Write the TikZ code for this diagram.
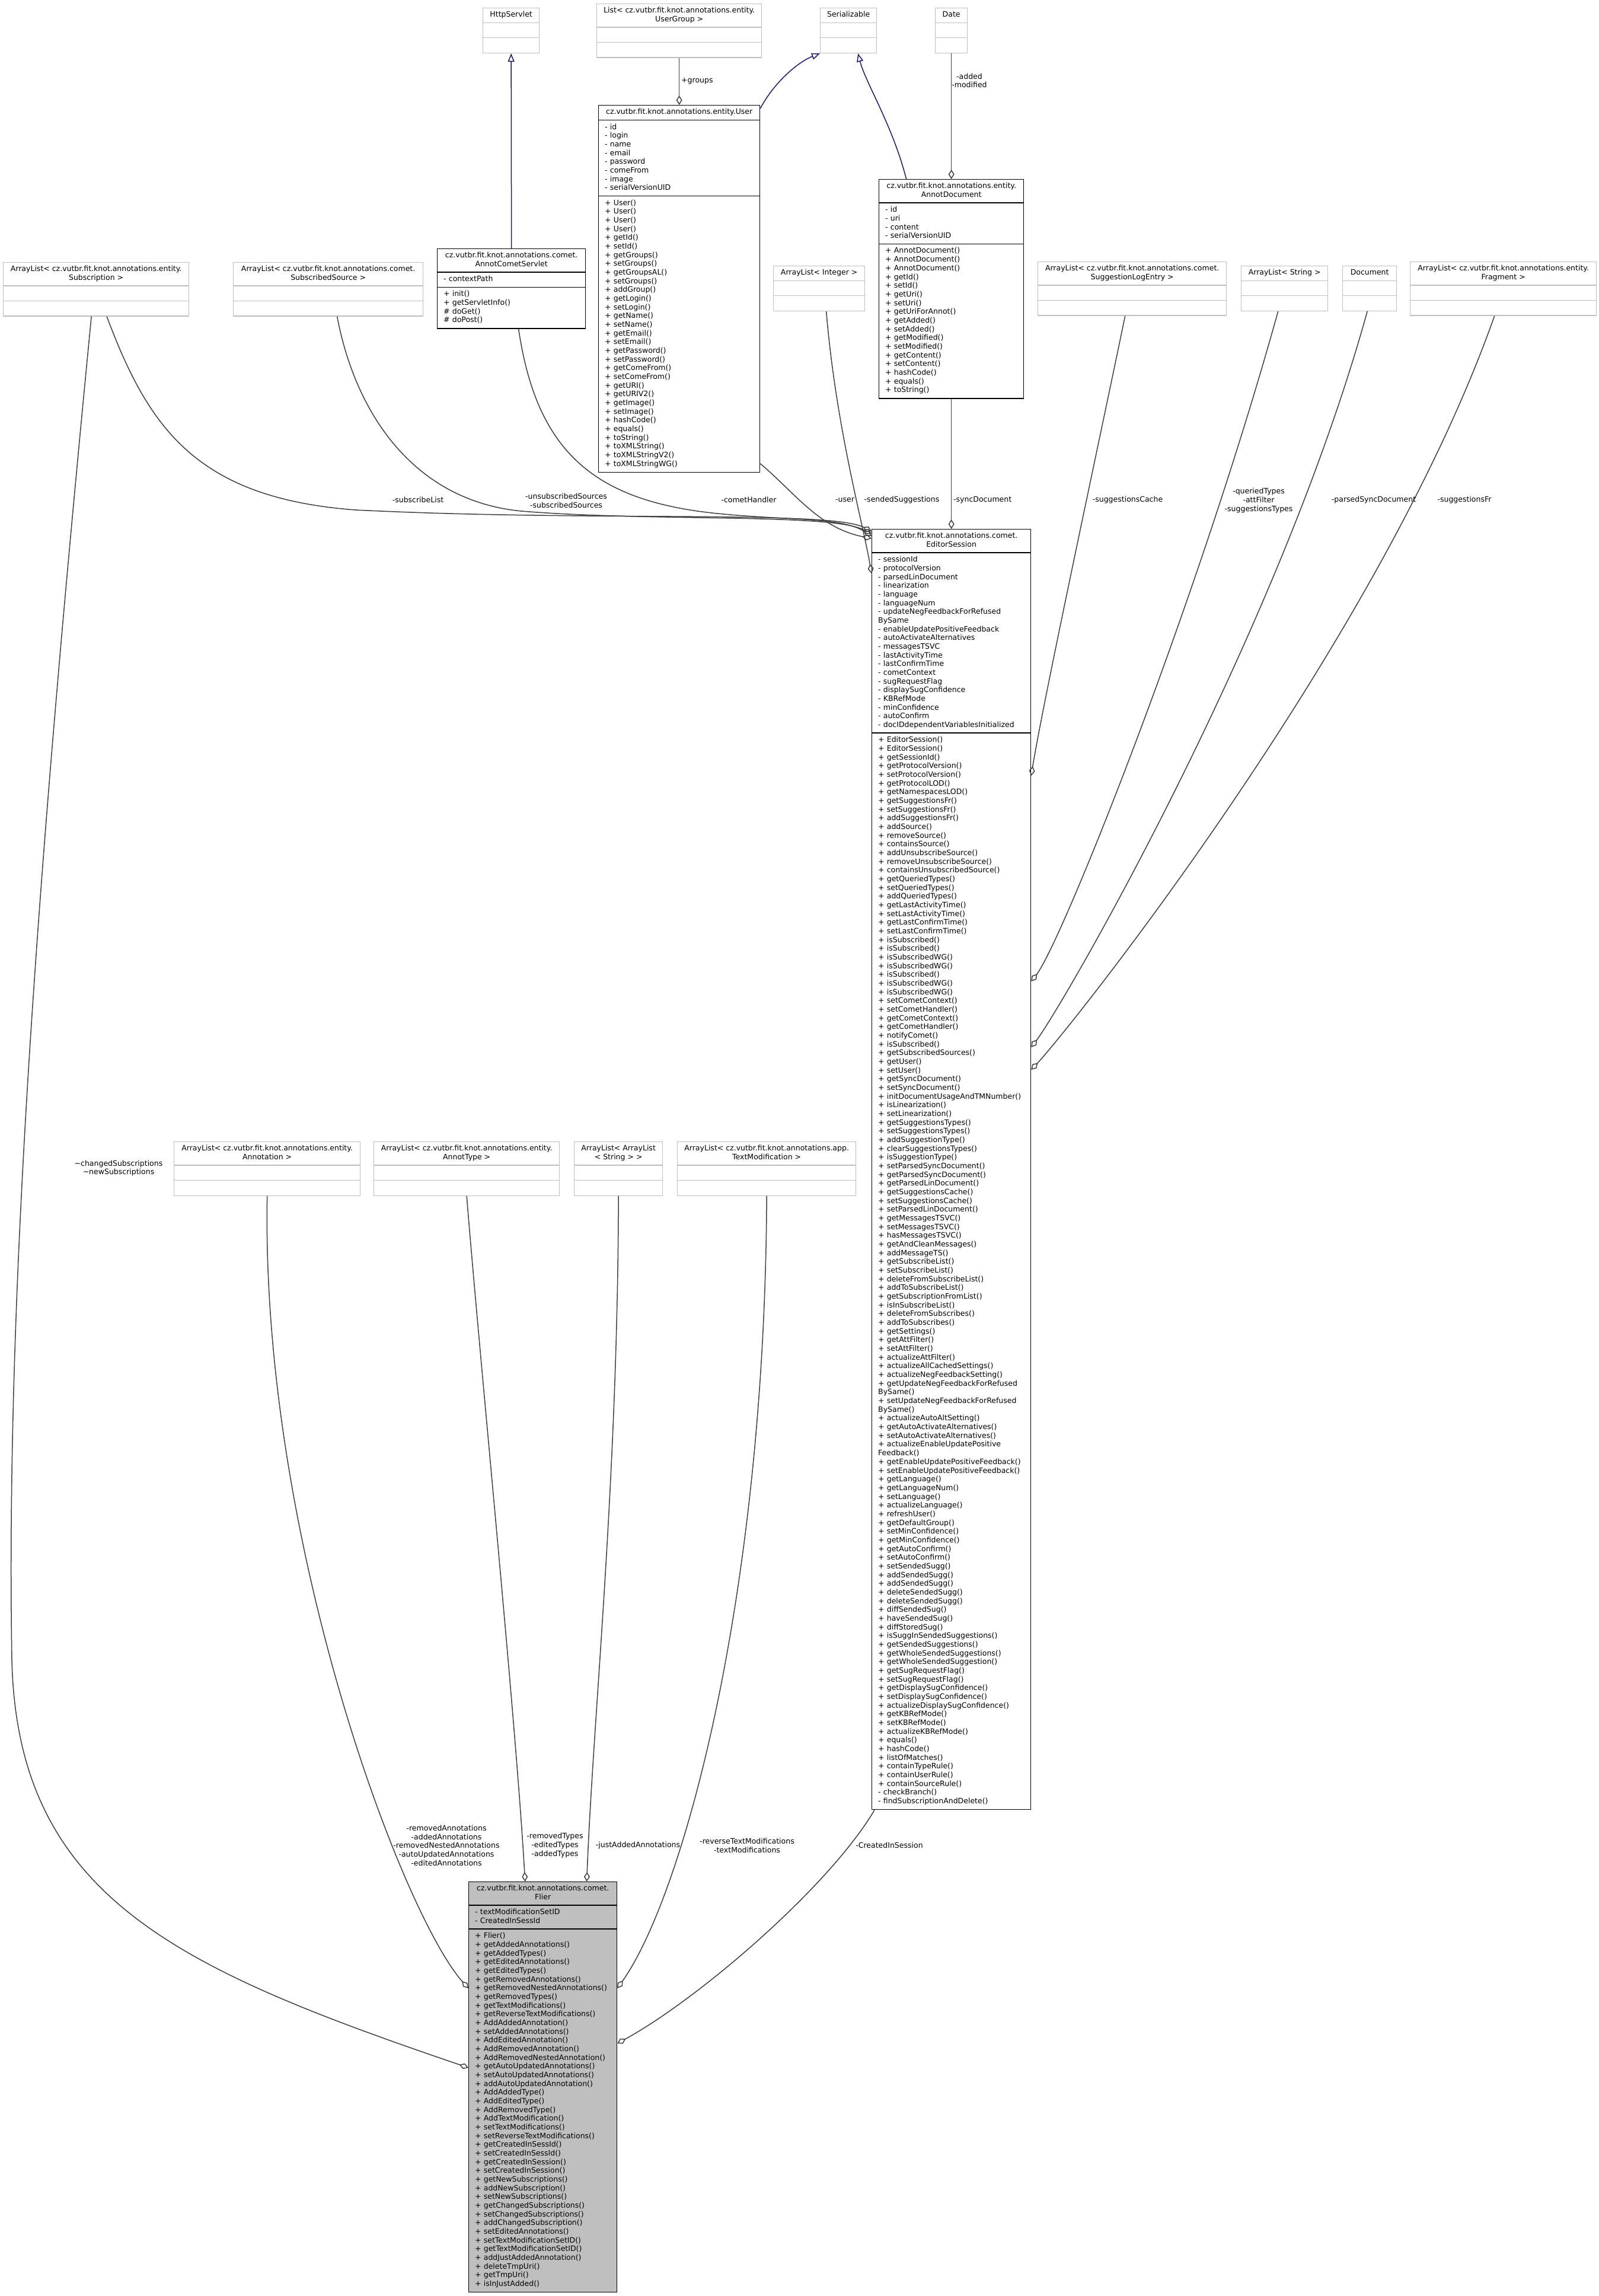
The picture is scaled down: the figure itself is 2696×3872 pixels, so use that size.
\documentclass[tikz,border=0pt]{standalone}
\usepackage{fontspec}
\setmainfont{DejaVu Sans}
\usepackage{tikz}
\usetikzlibrary{arrows.meta, calc}
\definecolor{edgegrey}{RGB}{64, 64, 64}
\definecolor{inhblue}{RGB}{25, 25, 112}
\definecolor{extgrey}{RGB}{191, 191, 191}
\definecolor{hlgrey}{RGB}{191, 191, 191}
\newcommand{\umlfont}{\fontsize{12.5}{14.67}\selectfont}
\newcommand{\lsk}{14.67}
\newcommand{\pd}{5.3}
\tikzset{
  cls/.style={draw=black, line width=1.3pt, fill=white, inner sep=0pt, anchor=north west},
  cls line/.style={draw=black, line width=1.3pt},
  ext/.style={cls, draw=extgrey},
  ext line/.style={draw=extgrey, line width=1.3pt},
  hl/.style={cls, fill=hlgrey},
  hl line/.style={cls line},
  ttl/.style={inner sep=0pt, anchor=north, align=center, font=\umlfont},
  txt/.style={inner sep=0pt, anchor=north west, text width=300pt, align=left, font=\umlfont},
  lbl/.style={inner sep=0pt, align=center, font=\umlfont},
  aggr/.style={draw=edgegrey, line width=1.5pt, -{Diamond[open, length=16pt, width=10pt]}},
  inherit/.style={draw=inhblue, line width=1.5pt, -{Triangle[open, length=14pt, width=11pt]}}
}
% class frame: style, name, x, y, width, title lines, attribute lines, method lines
\newcommand{\umlbox}[8]{%
  \pgfmathsetmacro{\hone}{#6*\lsk+2*\pd}%
  \pgfmathsetmacro{\htwo}{\hone+#7*\lsk+2*\pd}%
  \pgfmathsetmacro{\hall}{\htwo+#8*\lsk+2*\pd}%
  \node[#1, minimum width=#5pt, minimum height=\hall pt] (#2) at (#3,#4) {};
  \draw[#1 line] ([yshift=-\hone pt]#2.north west) -- ([yshift=-\hone pt]#2.north east);
  \draw[#1 line] ([yshift=-\htwo pt]#2.north west) -- ([yshift=-\htwo pt]#2.north east);
  \coordinate (#2-t) at ([yshift=-\pd pt]#2.north);
  \coordinate (#2-a) at ([xshift=11pt, yshift=-\hone pt-\pd pt]#2.north west);
  \coordinate (#2-m) at ([xshift=11pt, yshift=-\htwo pt-\pd pt]#2.north west);
}

\begin{document}
\begin{tikzpicture}[x=1pt, y=-1pt]
    \useasboundingbox (0,0) rectangle (2696,3872);
    \fill[white] (0,0) rectangle (2696,3872);

    % External classes, top row
    \umlbox{ext}{httpservlet}{814}{13}{95}{1}{1}{1}
    \node[ttl] (httpservlet-ttl) at (httpservlet-t) {\strut HttpServlet};
    \umlbox{ext}{usergroups}{1006}{6}{278}{2}{1}{1}
    \node[ttl] (usergroups-ttl) at (usergroups-t) {\strut List< cz.vutbr.fit.knot.annotations.entity.\\UserGroup >};
    \umlbox{ext}{serializable}{1383}{13}{95}{1}{1}{1}
    \node[ttl] (serializable-ttl) at (serializable-t) {\strut Serializable};
    \umlbox{ext}{date}{1577}{13}{54}{1}{1}{1}
    \node[ttl] (date-ttl) at (date-t) {\strut Date};

    % User
    \umlbox{cls}{user}{1009}{177}{272}{1}{8}{31}
    \node[ttl] (user-ttl) at (user-t) {\strut cz.vutbr.fit.knot.annotations.entity.User};
    \node[txt] (user-attr) at (user-a) {\strut - id\\- login\\- name\\- email\\- password\\- comeFrom\\- image\\- serialVersionUID};
    \node[txt] (user-meth) at (user-m) {\strut + User()\\+ User()\\+ User()\\+ User()\\+ getId()\\+ setId()\\+ getGroups()\\+ setGroups()\\+ getGroupsAL()\\+ setGroups()\\+ addGroup()\\+ getLogin()\\+ setLogin()\\+ getName()\\+ setName()\\+ getEmail()\\+ setEmail()\\+ getPassword()\\+ setPassword()\\+ getComeFrom()\\+ setComeFrom()\\+ getURI()\\+ getURIV2()\\+ getImage()\\+ setImage()\\+ hashCode()\\+ equals()\\+ toString()\\+ toXMLString()\\+ toXMLStringV2()\\+ toXMLStringWG()};

    % AnnotDocument
    \umlbox{cls}{annotdoc}{1482}{302}{244}{2}{4}{17}
    \node[ttl] (annotdoc-ttl) at (annotdoc-t) {\strut cz.vutbr.fit.knot.annotations.entity.\\AnnotDocument};
    \node[txt] (annotdoc-attr) at (annotdoc-a) {\strut - id\\- uri\\- content\\- serialVersionUID};
    \node[txt] (annotdoc-meth) at (annotdoc-m) {\strut + AnnotDocument()\\+ AnnotDocument()\\+ AnnotDocument()\\+ getId()\\+ setId()\\+ getUri()\\+ setUri()\\+ getUriForAnnot()\\+ getAdded()\\+ setAdded()\\+ getModified()\\+ setModified()\\+ getContent()\\+ setContent()\\+ hashCode()\\+ equals()\\+ toString()};

    % AnnotCometServlet
    \umlbox{cls}{cometservlet}{737}{419}{250}{2}{1}{4}
    \node[ttl] (cometservlet-ttl) at (cometservlet-t) {\strut cz.vutbr.fit.knot.annotations.comet.\\AnnotCometServlet};
    \node[txt] (cometservlet-attr) at (cometservlet-a) {\strut - contextPath};
    \node[txt] (cometservlet-meth) at (cometservlet-m) {\strut + init()\\+ getServletInfo()\\\# doGet()\\\# doPost()};

    % External classes, second row
    \umlbox{ext}{subscription}{5}{442}{313}{2}{1}{1}
    \node[ttl] (subscription-ttl) at (subscription-t) {\strut ArrayList< cz.vutbr.fit.knot.annotations.entity.\\Subscription >};
    \umlbox{ext}{subsource}{393}{442}{320}{2}{1}{1}
    \node[ttl] (subsource-ttl) at (subsource-t) {\strut ArrayList< cz.vutbr.fit.knot.annotations.comet.\\SubscribedSource >};
    \umlbox{ext}{integer}{1304}{448}{154}{1}{1}{1}
    \node[ttl] (integer-ttl) at (integer-t) {\strut ArrayList< Integer >};
    \umlbox{ext}{sugglog}{1750}{441}{318}{2}{1}{1}
    \node[ttl] (sugglog-ttl) at (sugglog-t) {\strut ArrayList< cz.vutbr.fit.knot.annotations.comet.\\SuggestionLogEntry >};
    \umlbox{ext}{strings}{2093}{448}{146}{1}{1}{1}
    \node[ttl] (strings-ttl) at (strings-t) {\strut ArrayList< String >};
    \umlbox{ext}{document}{2264}{448}{91}{1}{1}{1}
    \node[ttl] (document-ttl) at (document-t) {\strut Document};
    \umlbox{ext}{fragment}{2378}{441}{314}{2}{1}{1}
    \node[ttl] (fragment-ttl) at (fragment-t) {\strut ArrayList< cz.vutbr.fit.knot.annotations.entity.\\Fragment >};

    % EditorSession
    \umlbox{cls}{editor}{1470}{892}{268}{2}{20}{123}
    \node[ttl] (editor-ttl) at (editor-t) {\strut cz.vutbr.fit.knot.annotations.comet.\\EditorSession};
    \node[txt] (editor-attr) at (editor-a) {\strut - sessionId\\- protocolVersion\\- parsedLinDocument\\- linearization\\- language\\- languageNum\\- updateNegFeedbackForRefused\\BySame\\- enableUpdatePositiveFeedback\\- autoActivateAlternatives\\- messagesTSVC\\- lastActivityTime\\- lastConfirmTime\\- cometContext\\- sugRequestFlag\\- displaySugConfidence\\- KBRefMode\\- minConfidence\\- autoConfirm\\- docIDdependentVariablesInitialized};
    \node[txt] (editor-meth) at (editor-m) {\strut + EditorSession()\\+ EditorSession()\\+ getSessionId()\\+ getProtocolVersion()\\+ setProtocolVersion()\\+ getProtocolLOD()\\+ getNamespacesLOD()\\+ getSuggestionsFr()\\+ setSuggestionsFr()\\+ addSuggestionsFr()\\+ addSource()\\+ removeSource()\\+ containsSource()\\+ addUnsubscribeSource()\\+ removeUnsubscribeSource()\\+ containsUnsubscribedSource()\\+ getQueriedTypes()\\+ setQueriedTypes()\\+ addQueriedTypes()\\+ getLastActivityTime()\\+ setLastActivityTime()\\+ getLastConfirmTime()\\+ setLastConfirmTime()\\+ isSubscribed()\\+ isSubscribed()\\+ isSubscribedWG()\\+ isSubscribedWG()\\+ isSubscribed()\\+ isSubscribedWG()\\+ isSubscribedWG()\\+ setCometContext()\\+ setCometHandler()\\+ getCometContext()\\+ getCometHandler()\\+ notifyComet()\\+ isSubscribed()\\+ getSubscribedSources()\\+ getUser()\\+ setUser()\\+ getSyncDocument()\\+ setSyncDocument()\\+ initDocumentUsageAndTMNumber()\\+ isLinearization()\\+ setLinearization()\\+ getSuggestionsTypes()\\+ setSuggestionsTypes()\\+ addSuggestionType()\\+ clearSuggestionsTypes()\\+ isSuggestionType()\\+ setParsedSyncDocument()\\+ getParsedSyncDocument()\\+ getParsedLinDocument()\\+ getSuggestionsCache()\\+ setSuggestionsCache()\\+ setParsedLinDocument()\\+ getMessagesTSVC()\\+ setMessagesTSVC()\\+ hasMessagesTSVC()\\+ getAndCleanMessages()\\+ addMessageTS()\\+ getSubscribeList()\\+ setSubscribeList()\\+ deleteFromSubscribeList()\\+ addToSubscribeList()\\+ getSubscriptionFromList()\\+ isInSubscribeList()\\+ deleteFromSubscribes()\\+ addToSubscribes()\\+ getSettings()\\+ getAttFilter()\\+ setAttFilter()\\+ actualizeAttFilter()\\+ actualizeAllCachedSettings()\\+ actualizeNegFeedbackSetting()\\+ getUpdateNegFeedbackForRefused\\BySame()\\+ setUpdateNegFeedbackForRefused\\BySame()\\+ actualizeAutoAltSetting()\\+ getAutoActivateAlternatives()\\+ setAutoActivateAlternatives()\\+ actualizeEnableUpdatePositive\\Feedback()\\+ getEnableUpdatePositiveFeedback()\\+ setEnableUpdatePositiveFeedback()\\+ getLanguage()\\+ getLanguageNum()\\+ setLanguage()\\+ actualizeLanguage()\\+ refreshUser()\\+ getDefaultGroup()\\+ setMinConfidence()\\+ getMinConfidence()\\+ getAutoConfirm()\\+ setAutoConfirm()\\+ setSendedSugg()\\+ addSendedSugg()\\+ addSendedSugg()\\+ deleteSendedSugg()\\+ deleteSendedSugg()\\+ diffSendedSug()\\+ haveSendedSug()\\+ diffStoredSug()\\+ isSuggInSendedSuggestions()\\+ getSendedSuggestions()\\+ getWholeSendedSuggestions()\\+ getWholeSendedSuggestion()\\+ getSugRequestFlag()\\+ setSugRequestFlag()\\+ getDisplaySugConfidence()\\+ setDisplaySugConfidence()\\+ actualizeDisplaySugConfidence()\\+ getKBRefMode()\\+ setKBRefMode()\\+ actualizeKBRefMode()\\+ equals()\\+ hashCode()\\+ listOfMatches()\\+ containTypeRule()\\+ containUserRule()\\+ containSourceRule()\\- checkBranch()\\- findSubscriptionAndDelete()};

    % External classes, third row
    \umlbox{ext}{annotation}{293}{1925}{314}{2}{1}{1}
    \node[ttl] (annotation-ttl) at (annotation-t) {\strut ArrayList< cz.vutbr.fit.knot.annotations.entity.\\Annotation >};
    \umlbox{ext}{annottype}{630}{1925}{313}{2}{1}{1}
    \node[ttl] (annottype-ttl) at (annottype-t) {\strut ArrayList< cz.vutbr.fit.knot.annotations.entity.\\AnnotType >};
    \umlbox{ext}{nested}{968}{1925}{149}{2}{1}{1}
    \node[ttl] (nested-ttl) at (nested-t) {\strut ArrayList< ArrayList\\< String > >};
    \umlbox{ext}{textmod}{1142}{1925}{301}{2}{1}{1}
    \node[ttl] (textmod-ttl) at (textmod-t) {\strut ArrayList< cz.vutbr.fit.knot.annotations.app.\\TextModification >};

    % Flier
    \umlbox{hl}{flier}{790}{3173}{250}{2}{2}{41}
    \node[ttl] (flier-ttl) at (flier-t) {\strut cz.vutbr.fit.knot.annotations.comet.\\Flier};
    \node[txt] (flier-attr) at (flier-a) {\strut - textModificationSetID\\- CreatedInSessId};
    \node[txt] (flier-meth) at (flier-m) {\strut + Flier()\\+ getAddedAnnotations()\\+ getAddedTypes()\\+ getEditedAnnotations()\\+ getEditedTypes()\\+ getRemovedAnnotations()\\+ getRemovedNestedAnnotations()\\+ getRemovedTypes()\\+ getTextModifications()\\+ getReverseTextModifications()\\+ AddAddedAnnotation()\\+ setAddedAnnotations()\\+ AddEditedAnnotation()\\+ AddRemovedAnnotation()\\+ AddRemovedNestedAnnotation()\\+ getAutoUpdatedAnnotations()\\+ setAutoUpdatedAnnotations()\\+ addAutoUpdatedAnnotation()\\+ AddAddedType()\\+ AddEditedType()\\+ AddRemovedType()\\+ AddTextModification()\\+ setTextModifications()\\+ setReverseTextModifications()\\+ getCreatedInSessId()\\+ setCreatedInSessId()\\+ getCreatedInSession()\\+ setCreatedInSession()\\+ getNewSubscriptions()\\+ addNewSubscription()\\+ setNewSubscriptions()\\+ getChangedSubscriptions()\\+ setChangedSubscriptions()\\+ addChangedSubscription()\\+ setEditedAnnotations()\\+ setTextModificationSetID()\\+ getTextModificationSetID()\\+ addJustAddedAnnotation()\\+ deleteTmpUri()\\+ getTmpUri()\\+ isInJustAdded()};

    % Inheritance
    \draw[inherit] (cometservlet.north) -- (httpservlet.south);
    \draw[inherit] ([yshift=-6pt]user.north east) .. controls (1305,140) and (1345,105) .. (serializable.south west);
    \draw[inherit] ([xshift=-76pt]annotdoc.north) .. controls (1505,210) and (1460,140) .. ([xshift=16pt]serializable.south);

    % Members, top
    \draw[aggr] (usergroups.south) -- (user.north);
    \node[lbl, anchor=west] (l-groups) at (1149,137) {+groups};
    \draw[aggr] (date.south) -- (annotdoc.north);
    \node[lbl] (l-dates) at (1635,136) {-added\\-modified};

    % Members of EditorSession
    \draw[aggr] ([xshift=18pt]subscription.south) .. controls (250,720) and (330,840) .. (600,860) .. controls (1000,880) and (1400,860) .. ([yshift=-4pt]editor.north west);
    \draw[aggr] ([xshift=15pt]subsource.south) .. controls (600,700) and (700,845) .. (880,862) .. controls (1100,880) and (1400,865) .. ([yshift=-8pt]editor.north west);
    \draw[aggr] ([xshift=12pt]cometservlet.south) .. controls (905,760) and (1000,845) .. (1210,866) .. controls (1330,878) and (1420,872) .. ([yshift=-12pt]editor.north west);
    \draw[aggr] ([yshift=15pt]user.south east) .. controls (1340,830) and (1380,890) .. ([yshift=-16pt]editor.north west);
    \draw[aggr] ([xshift=12pt]integer.south) .. controls (1410,720) and (1455,880) .. ([yshift=-75pt]editor.north west);
    \draw[aggr] (annotdoc.south) -- (editor.north);
    \draw[aggr] ([xshift=-12pt]sugglog.south) .. controls (1857,730) and (1760,1180) .. ([yshift=-416pt]editor.north east);
    \draw[aggr] ([xshift=-11pt]strings.south) .. controls (2017,1024) and (1790,1590) .. ([yshift=-763pt]editor.north east);
    \draw[aggr] ([xshift=-4pt]document.south) .. controls (2154,1074) and (1790,1700) .. ([yshift=-874pt]editor.north east);
    \draw[aggr] ([xshift=-15pt]fragment.south) .. controls (2327,1082) and (1800,1740) .. ([yshift=-912pt]editor.north east);
    \node[lbl] (l-sublist) at (705,843) {-subscribeList};
    \node[lbl] (l-sources) at (955,844) {-unsubscribedSources\\-subscribedSources};
    \node[lbl] (l-comet) at (1263,843) {-cometHandler};
    \node[lbl] (l-user) at (1425,843) {-user};
    \node[lbl] (l-sended) at (1521,843) {-sendedSuggestions};
    \node[lbl, anchor=west] (l-sync) at (1608,843) {-syncDocument};
    \node[lbl] (l-cache) at (1902,843) {-suggestionsCache};
    \node[lbl] (l-types) at (2123,844) {-queriedTypes\\-attFilter\\-suggestionsTypes};
    \node[lbl] (l-parsed) at (2317,843) {-parsedSyncDocument};
    \node[lbl] (l-fr) at (2470,843) {-suggestionsFr};

    % Members of Flier
    \draw[aggr] ([xshift=-8pt]subscription.south) .. controls (60,1500) and (10,2200) .. (20,2800) .. controls (30,3200) and (300,3320) .. ([yshift=-314pt]flier.north west);
    \draw[aggr] (annotation.south) .. controls (440,2600) and (680,3230) .. ([yshift=-180pt]flier.north west);
    \draw[aggr] (annottype.south) .. controls (810,2300) and (870,2900) .. ([xshift=-30pt]flier.north);
    \draw[aggr] (nested.south) .. controls (1042,2500) and (1000,2900) .. ([xshift=74pt]flier.north);
    \draw[aggr] (textmod.south) .. controls (1290,2700) and (1150,3200) .. ([yshift=-180pt]flier.north east);
    \draw[aggr] ([xshift=5pt]editor.south west) .. controls (1400,3180) and (1180,3370) .. ([yshift=-273pt]flier.north east);
    \node[lbl] (l-subs) at (200,1970) {\textasciitilde changedSubscriptions\\\textasciitilde newSubscriptions};
    \node[lbl] (l-annots) at (753,3112) {-removedAnnotations\\-addedAnnotations\\-removedNestedAnnotations\\-autoUpdatedAnnotations\\-editedAnnotations};
    \node[lbl] (l-atypes) at (936,3112) {-removedTypes\\-editedTypes\\-addedTypes};
    \node[lbl] (l-just) at (1076,3112) {-justAddedAnnotations};
    \node[lbl] (l-textmods) at (1260,3112) {-reverseTextModifications\\-textModifications};
    \node[lbl] (l-created) at (1500,3112) {-CreatedInSession};
\end{tikzpicture}
\end{document}
